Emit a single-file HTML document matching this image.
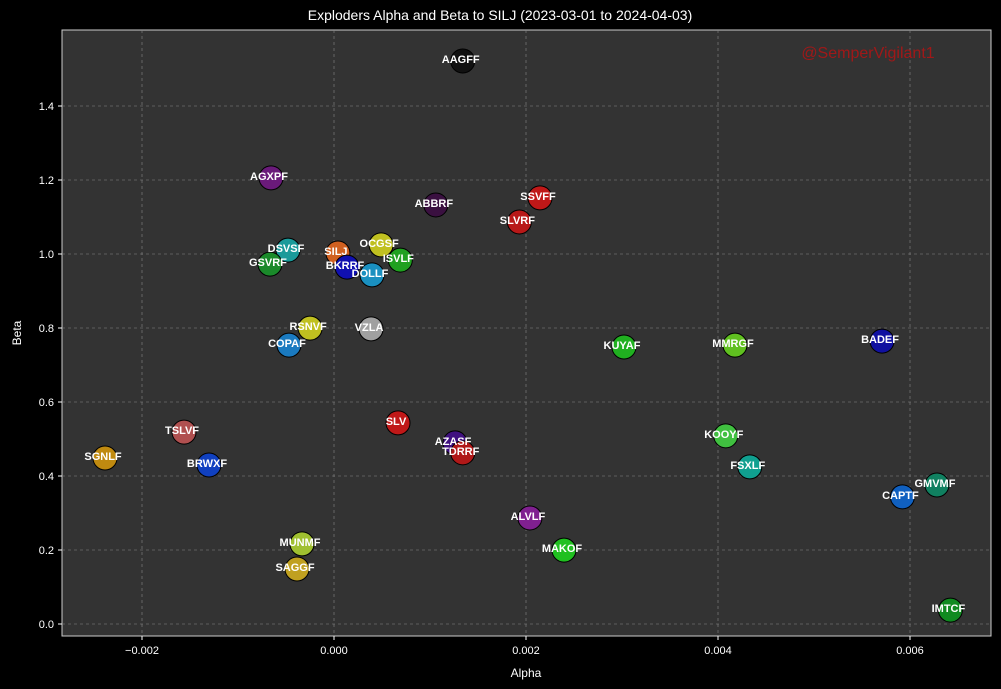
<!DOCTYPE html>
<html><head><meta charset="utf-8"><style>
body{margin:0;background:#000;}
svg{display:block;font-family:"Liberation Sans","DejaVu Sans",sans-serif;}
</style></head><body>
<svg id="c" width="1001" height="689">
<rect width="1001" height="689" fill="#000"/>
<rect x="62" y="30" width="929" height="606" fill="#333333" stroke="#ccc" stroke-width="1"/>
<g id="grid"></g><g id="ticks"></g><g id="pts"></g>
<text x="500" y="20" fill="#fff" font-size="14" text-anchor="middle">Exploders Alpha and Beta to SILJ (2023-03-01 to 2024-04-03)</text>
<text x="526" y="677" fill="#fff" font-size="12" text-anchor="middle">Alpha</text>
<text x="21" y="333" fill="#fff" font-size="12" text-anchor="middle" transform="rotate(-90 21 333)">Beta</text>
<text x="868" y="58" fill="#a01818" font-size="16" text-anchor="middle">@SemperVigilant1</text>
</svg>
<script>
const names=["AAGFF","AGXPF","ABBRF","SSVFF","SLVRF","DSVSF","GSVRF","SILJ","OCGSF","ISVLF","BKRRF","DOLLF","RSNVF","VZLA","COPAF","KUYAF","MMRGF","BADEF","SLV","TSLVF","AZASF","TDRRF","KOOYF","SGNLF","BRWXF","FSXLF","GMVMF","CAPTF","ALVLF","MAKOF","MUNMF","SAGGF","IMTCF"];
const alphas=[0.00132,-0.000677,0.00104,0.002125,0.00191,-0.0005,-0.000688,0.00002,0.00047,0.00067,0.000115,0.000375,-0.00027,0.000365,-0.00049,0.003,0.004156,0.005688,0.000646,-0.001583,0.00124,0.00132,0.00406,-0.002406,-0.001323,0.00431,0.00626,0.0059,0.00202,0.002375,-0.000354,-0.000406,0.0064];
const betas=[1.527,1.211,1.138,1.157,1.092,1.016,0.978,1.008,1.03,0.989,0.97,0.949,0.805,0.803,0.759,0.754,0.759,0.77,0.549,0.524,0.495,0.468,0.514,0.454,0.435,0.43,0.381,0.349,0.292,0.205,0.222,0.154,0.043];
const colors=["#111","#6a1a7a","#3a1040","#c01818","#b81818","#1a9a9a","#1a8a2a","#d06020","#c0c020","#20a020","#1010b0","#1a90c0","#c0c020","#a0a0a0","#1a7ac0","#20b020","#60c020","#1010a0","#c01818","#b05050","#401080","#b01818","#40c040","#c08a10","#1040c0","#10a090","#108060","#1060c0","#802090","#20c020","#a0c030","#c0a020","#108a20"];
const xTicks=[-0.002,0,0.002,0.004,0.006];
const xTickLabels=["\u22120.002","0.000","0.002","0.004","0.006"];
const yTicks=[0,0.2,0.4,0.6,0.8,1.0,1.2,1.4];
const yTickLabels=["0.0","0.2","0.4","0.6","0.8","1.0","1.2","1.4"];
const X=v=>334+v*96000, Y=v=>624-v*370;
const NS="http://www.w3.org/2000/svg";
function mk(t,a,p){const e=document.createElementNS(NS,t);for(const k in a)e.setAttribute(k,a[k]);p.appendChild(e);return e;}
const g=document.getElementById('grid'),tk=document.getElementById('ticks'),pg=document.getElementById('pts');
xTicks.forEach((v,i)=>{const x=X(v);
 const l=mk('line',{x1:x,x2:x,y1:30,y2:636,stroke:'#888','stroke-dasharray':'3,3','stroke-width':0.6},g);
 
 mk('line',{x1:x,x2:x,y1:636,y2:640,stroke:'#fff'},tk);
 const t=mk('text',{x:x,y:654,fill:'#fff','font-size':11,'text-anchor':'middle'},tk);t.textContent=xTickLabels[i];
 });
yTicks.forEach((v,i)=>{const y=Y(v);
 const l=mk('line',{x1:62,x2:991,y1:y,y2:y,stroke:'#888','stroke-dasharray':'3,3','stroke-width':0.6},g);
 
 mk('line',{x1:58,x2:62,y1:y,y2:y,stroke:'#fff'},tk);
 const t=mk('text',{x:54,y:y+4,fill:'#fff','font-size':11,'text-anchor':'end'},tk);t.textContent=yTickLabels[i];
 });
names.forEach((n,i)=>{const x=X(alphas[i]),y=Y(betas[i]);
 const c=mk('circle',{cx:x+2,cy:y+2,r:12,fill:colors[i],stroke:'#000','stroke-width':1},pg);
 });
names.forEach((n,i)=>{const x=X(alphas[i]),y=Y(betas[i]);
 const t=mk('text',{x:x,y:y+4,fill:'#fff','font-size':11,'font-weight':'bold','text-anchor':'middle'},pg);t.textContent=n;
 });
</script>
</body></html>
